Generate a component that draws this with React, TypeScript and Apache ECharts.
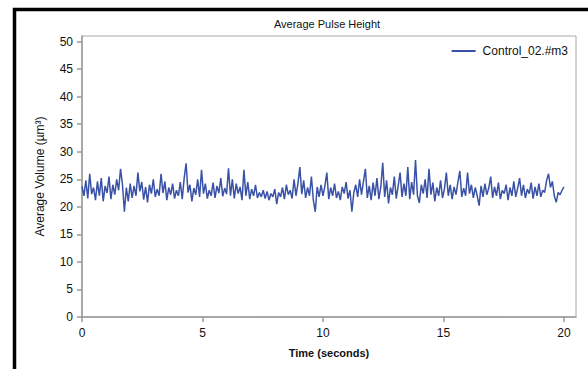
import React, { useEffect, useRef } from "react";
import * as echarts from "echarts";

const TITLE = "Average Pulse Height";
const SERIES_NAME = "Control_02.#m3";
const X_NAME = "Time (seconds)";
const Y_NAME = "Average Volume (\u00B5m\u00B3)";
const X_TICKS = [0, 5, 10, 15, 20];
const Y_TICKS = [0, 5, 10, 15, 20, 25, 30, 35, 40, 45, 50];
const TIME_STEP = 0.08;

const volume: number[] = [
  // 0 - 1.92 s
  23.7, 22.0, 24.8, 21.5, 26.0, 22.3, 23.5, 21.2, 24.6, 22.0, 25.2, 21.0, 23.8, 22.5, 25.5, 21.4, 24.0, 22.2, 25.0, 23.0, 26.9, 24.0, 19.1, 23.5, 21.0,
  // 2 - 3.92 s
  24.2, 21.6, 23.8, 22.0, 26.2, 22.8, 24.5, 21.3, 23.6, 20.8, 24.0, 22.4, 25.0, 21.8, 23.2, 22.0, 26.0, 22.5, 24.6, 21.2, 23.5, 22.2, 24.2, 21.5, 23.0,
  // 4 - 5.92 s
  22.0, 24.5, 21.4, 25.2, 27.9, 22.6, 24.0, 21.0, 23.4, 22.2, 25.0, 21.8, 26.7, 22.4, 24.2, 21.5, 23.0, 22.0, 24.4, 21.6, 23.8, 22.5, 25.2, 21.9, 23.4,
  // 6 - 7.92 s
  22.3, 27.0, 22.0, 25.0, 21.5, 24.2, 22.4, 23.6, 21.2, 26.7, 22.0, 24.5, 21.4, 23.2, 22.0, 24.0, 21.6, 22.6, 21.8, 23.0, 21.5, 22.8, 21.2, 22.4, 21.8,
  // 8 - 9.92 s
  23.2, 20.5, 22.6, 21.8, 23.5, 21.4, 24.0, 22.2, 23.0, 21.5, 25.0, 22.0, 24.2, 27.2, 22.3, 24.8, 21.6, 23.5, 22.0, 25.5, 21.2, 19.1, 23.6, 21.8, 24.0,
  // 10 - 11.92 s
  22.0, 23.8, 26.2, 21.4, 23.5, 22.0, 24.2, 21.6, 22.8, 21.2, 23.6, 22.4, 24.5, 21.5, 23.0, 19.1, 22.6, 24.0, 21.8, 25.0, 22.2, 24.6, 26.9, 21.6, 23.8,
  // 12 - 13.92 s
  21.2, 24.4, 22.0, 25.2, 21.4, 23.6, 28.0, 21.8, 24.8, 20.6, 23.5, 22.2, 25.5, 21.5, 23.8, 26.2, 21.8, 24.2, 22.0, 27.2, 21.4, 24.5, 22.2, 28.5, 22.0,
  // 14 - 15.92 s
  20.7, 24.0, 22.4, 25.0, 21.6, 26.9, 22.2, 24.4, 21.0, 23.5, 22.0, 24.8, 21.6, 23.2, 26.2, 22.0, 24.0, 21.4, 23.6, 22.2, 24.5, 26.5, 21.8, 23.4, 22.0,
  // 16 - 17.92 s
  26.2, 22.4, 24.0, 21.6, 23.5, 22.0, 20.2, 23.8, 21.8, 24.2, 22.2, 23.4, 25.5, 21.6, 23.6, 22.0, 24.4, 21.4, 23.0, 22.4, 24.0, 21.2, 23.5, 22.0, 24.6,
  // 18 - 20 s
  21.8, 23.4, 25.2, 22.0, 24.0, 21.6, 23.2, 22.4, 24.4, 21.5, 23.6, 22.0, 24.2, 21.8, 23.0, 22.6, 24.8, 26.0, 23.5, 24.6, 22.0, 20.8, 22.6, 22.2, 23.0, 23.6,
];

const FONT = "'Liberation Sans', Arial, sans-serif";

export default function App() {
  const ref = useRef<HTMLDivElement>(null);
  useEffect(() => {
    document.body.style.margin = "0";
    if (!ref.current) return;
    const chart = echarts.init(ref.current, null, { renderer: "svg" });
    const data = volume.map((v, i) => [Number((i * TIME_STEP).toFixed(2)), v]);
    chart.setOption({
      animation: false,
      backgroundColor: "#fff",
      textStyle: { fontFamily: FONT },
      grid: {
        left: 82,
        right: 12,
        top: 36,
        bottom: 52,
        show: true,
        borderColor: "#a8a8a8",
        borderWidth: 1,
        backgroundColor: "transparent",
      },
      graphic: [
        {
          type: "polyline",
          shape: { points: [[14.5, 369], [14.5, 9.5], [588, 9.5]] },
          style: { stroke: "#000", lineWidth: 3.5, fill: "none" },
          silent: true,
        },
        {
          type: "text",
          x: 327,
          y: 24,
          style: {
            text: TITLE,
            fontFamily: FONT,
            fontSize: 11,
            fill: "#111",
            textAlign: "center",
            textVerticalAlign: "middle",
          },
        },
      ],
      legend: {
        show: true,
        top: 40,
        right: 15,
        itemWidth: 24,
        itemHeight: 12,
        itemGap: 6,
        textStyle: { fontFamily: FONT, fontSize: 12, color: "#111", padding: [0, 0, 0, 2] },
        data: [{ name: SERIES_NAME, icon: "path://M0,5 L24,5 L24,7 L0,7 Z" }],
      },
      xAxis: {
        type: "value",
        min: 0,
        max: 20.5,
        name: X_NAME,
        nameLocation: "middle",
        nameGap: 30,
        nameTextStyle: { fontFamily: FONT, fontSize: 11, fontWeight: "bold", color: "#111" },
        axisLine: { show: true, lineStyle: { color: "#9a9a9a", width: 1.5 } },
        axisTick: { show: true, length: 5, customValues: X_TICKS, lineStyle: { color: "#9a9a9a", width: 1.5 } },
        axisLabel: { customValues: X_TICKS, fontFamily: FONT, fontSize: 12, color: "#111", margin: 10 },
        splitLine: { show: false },
      },
      yAxis: {
        type: "value",
        min: 0,
        max: 51,
        name: Y_NAME,
        nameLocation: "middle",
        nameGap: 36,
        nameRotate: 90,
        nameTextStyle: { fontFamily: FONT, fontSize: 12, color: "#111" },
        axisLine: { show: true, lineStyle: { color: "#9a9a9a", width: 1.5 } },
        axisTick: { show: true, length: 5, customValues: Y_TICKS, lineStyle: { color: "#9a9a9a", width: 1.5 } },
        axisLabel: { customValues: Y_TICKS, fontFamily: FONT, fontSize: 12, color: "#111", margin: 9 },
        splitLine: { show: false },
      },
      series: [
        {
          name: SERIES_NAME,
          type: "line",
          data,
          symbol: "none",
          lineStyle: { color: "#3a52a6", width: 1.5 },
          itemStyle: { color: "#3a52a6" },
        },
      ],
    });
    return () => chart.dispose();
  }, []);
  return <div ref={ref} style={{ width: 588, height: 369 }} />;
}
